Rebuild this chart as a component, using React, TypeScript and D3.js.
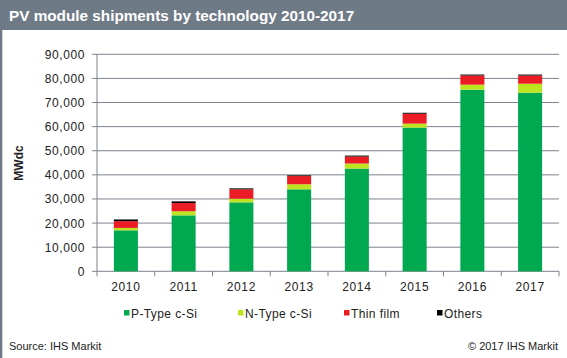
import React from "react";
import * as d3 from "d3";

const years = ["2010", "2011", "2012", "2013", "2014", "2015", "2016", "2017"];
const pType = [17000, 23200, 28600, 34000, 42600, 59600, 75300, 74100];
const nType = [1000, 1700, 1500, 2100, 2100, 1650, 2100, 3700];
const thinFilm = [2800, 3400, 3900, 3400, 2900, 4100, 3800, 3400];
const others = [700, 700, 400, 300, 400, 400, 400, 400];
const yTicks = [0, 10000, 20000, 30000, 40000, 50000, 60000, 70000, 80000, 90000];
const seriesNames = ["P-Type c-Si", "N-Type c-Si", "Thin film", "Others"];
const seriesColors = ["#00a84f", "#bde51f", "#ec1c24", "#000000"];

const W = 567;
const H = 358;
const plot = { left: 97, right: 559, top: 54.3, bottom: 271.3 };
const font = "'Liberation Sans', Arial, sans-serif";

export default function App() {
  const x = d3.scaleBand<string>().domain(years).range([plot.left, plot.right]).paddingInner(0.584).paddingOuter(0.292);
  const y = d3.scaleLinear().domain([0, 90000]).range([plot.bottom, plot.top]);
  const table = years.map((yr, i) => ({ year: yr, s0: pType[i], s1: nType[i], s2: thinFilm[i], s3: others[i] }));
  const stacked = d3.stack<any>().keys(["s0", "s1", "s2", "s3"])(table);
  const fmt = d3.format(",");
  const step = (plot.right - plot.left) / years.length;
  const legendX = [124, 238, 344, 437];
  const grid = "#7b828c";

  return (
    <svg width={W} height={H} style={{ position: "absolute", left: 0, top: 0, display: "block" }} fontFamily={font}>
      <rect x={0} y={0} width={W} height={H} fill="#ffffff" />
      <rect x={0} y={0} width={W} height={30} fill="#6f7a87" />
      <rect x={0} y={0} width={2.3} height={H} fill="#6f7a87" />
      <text x={9} y={20.5} fill="#ffffff" fontSize={15.3} fontWeight="bold">PV module shipments by technology 2010-2017</text>

      {yTicks.map((t) => (
        <g key={t}>
          <line x1={plot.left - 5} x2={plot.right} y1={y(t)} y2={y(t)} stroke={grid} strokeWidth={1} />
          <text x={85} y={y(t) + 4.5} textAnchor="end" fontSize={12} fill="#222" letterSpacing={0.6}>{fmt(t)}</text>
        </g>
      ))}
      <line x1={plot.left} x2={plot.left} y1={plot.top} y2={plot.bottom} stroke={grid} strokeWidth={1} />
      {d3.range(years.length + 1).map((i) => (
        <line key={i} x1={plot.left + i * step} x2={plot.left + i * step} y1={plot.bottom} y2={plot.bottom + 5} stroke={grid} strokeWidth={1} />
      ))}

      {stacked.map((layer, li) => (
        <g key={li}>
          {layer.map((d: any, i: number) => (
            <rect key={i} x={x(years[i])} width={x.bandwidth()} y={y(d[1])} height={y(d[0]) - y(d[1])} fill={seriesColors[li]} />
          ))}
        </g>
      ))}

      {years.map((yr) => (
        <text key={yr} x={(x(yr) as number) + x.bandwidth() / 2} y={291} textAnchor="middle" fontSize={12} fill="#222" letterSpacing={0.6}>{yr}</text>
      ))}

      <text transform="translate(23,163) rotate(-90)" textAnchor="middle" fontSize={12} fontWeight="bold" fill="#222">MWdc</text>

      {seriesNames.map((n, i) => (
        <g key={n}>
          <rect x={legendX[i]} y={310} width={5.5} height={5.5} fill={seriesColors[i]} />
          <text x={legendX[i] + 7} y={317.5} fontSize={12} fill="#222" letterSpacing={0.4}>{n}</text>
        </g>
      ))}

      <text x={9} y={350} fontSize={11} fill="#222">Source: IHS Markit</text>
      <text x={558} y={350} textAnchor="end" fontSize={11} fill="#222">© 2017 IHS Markit</text>
    </svg>
  );
}
